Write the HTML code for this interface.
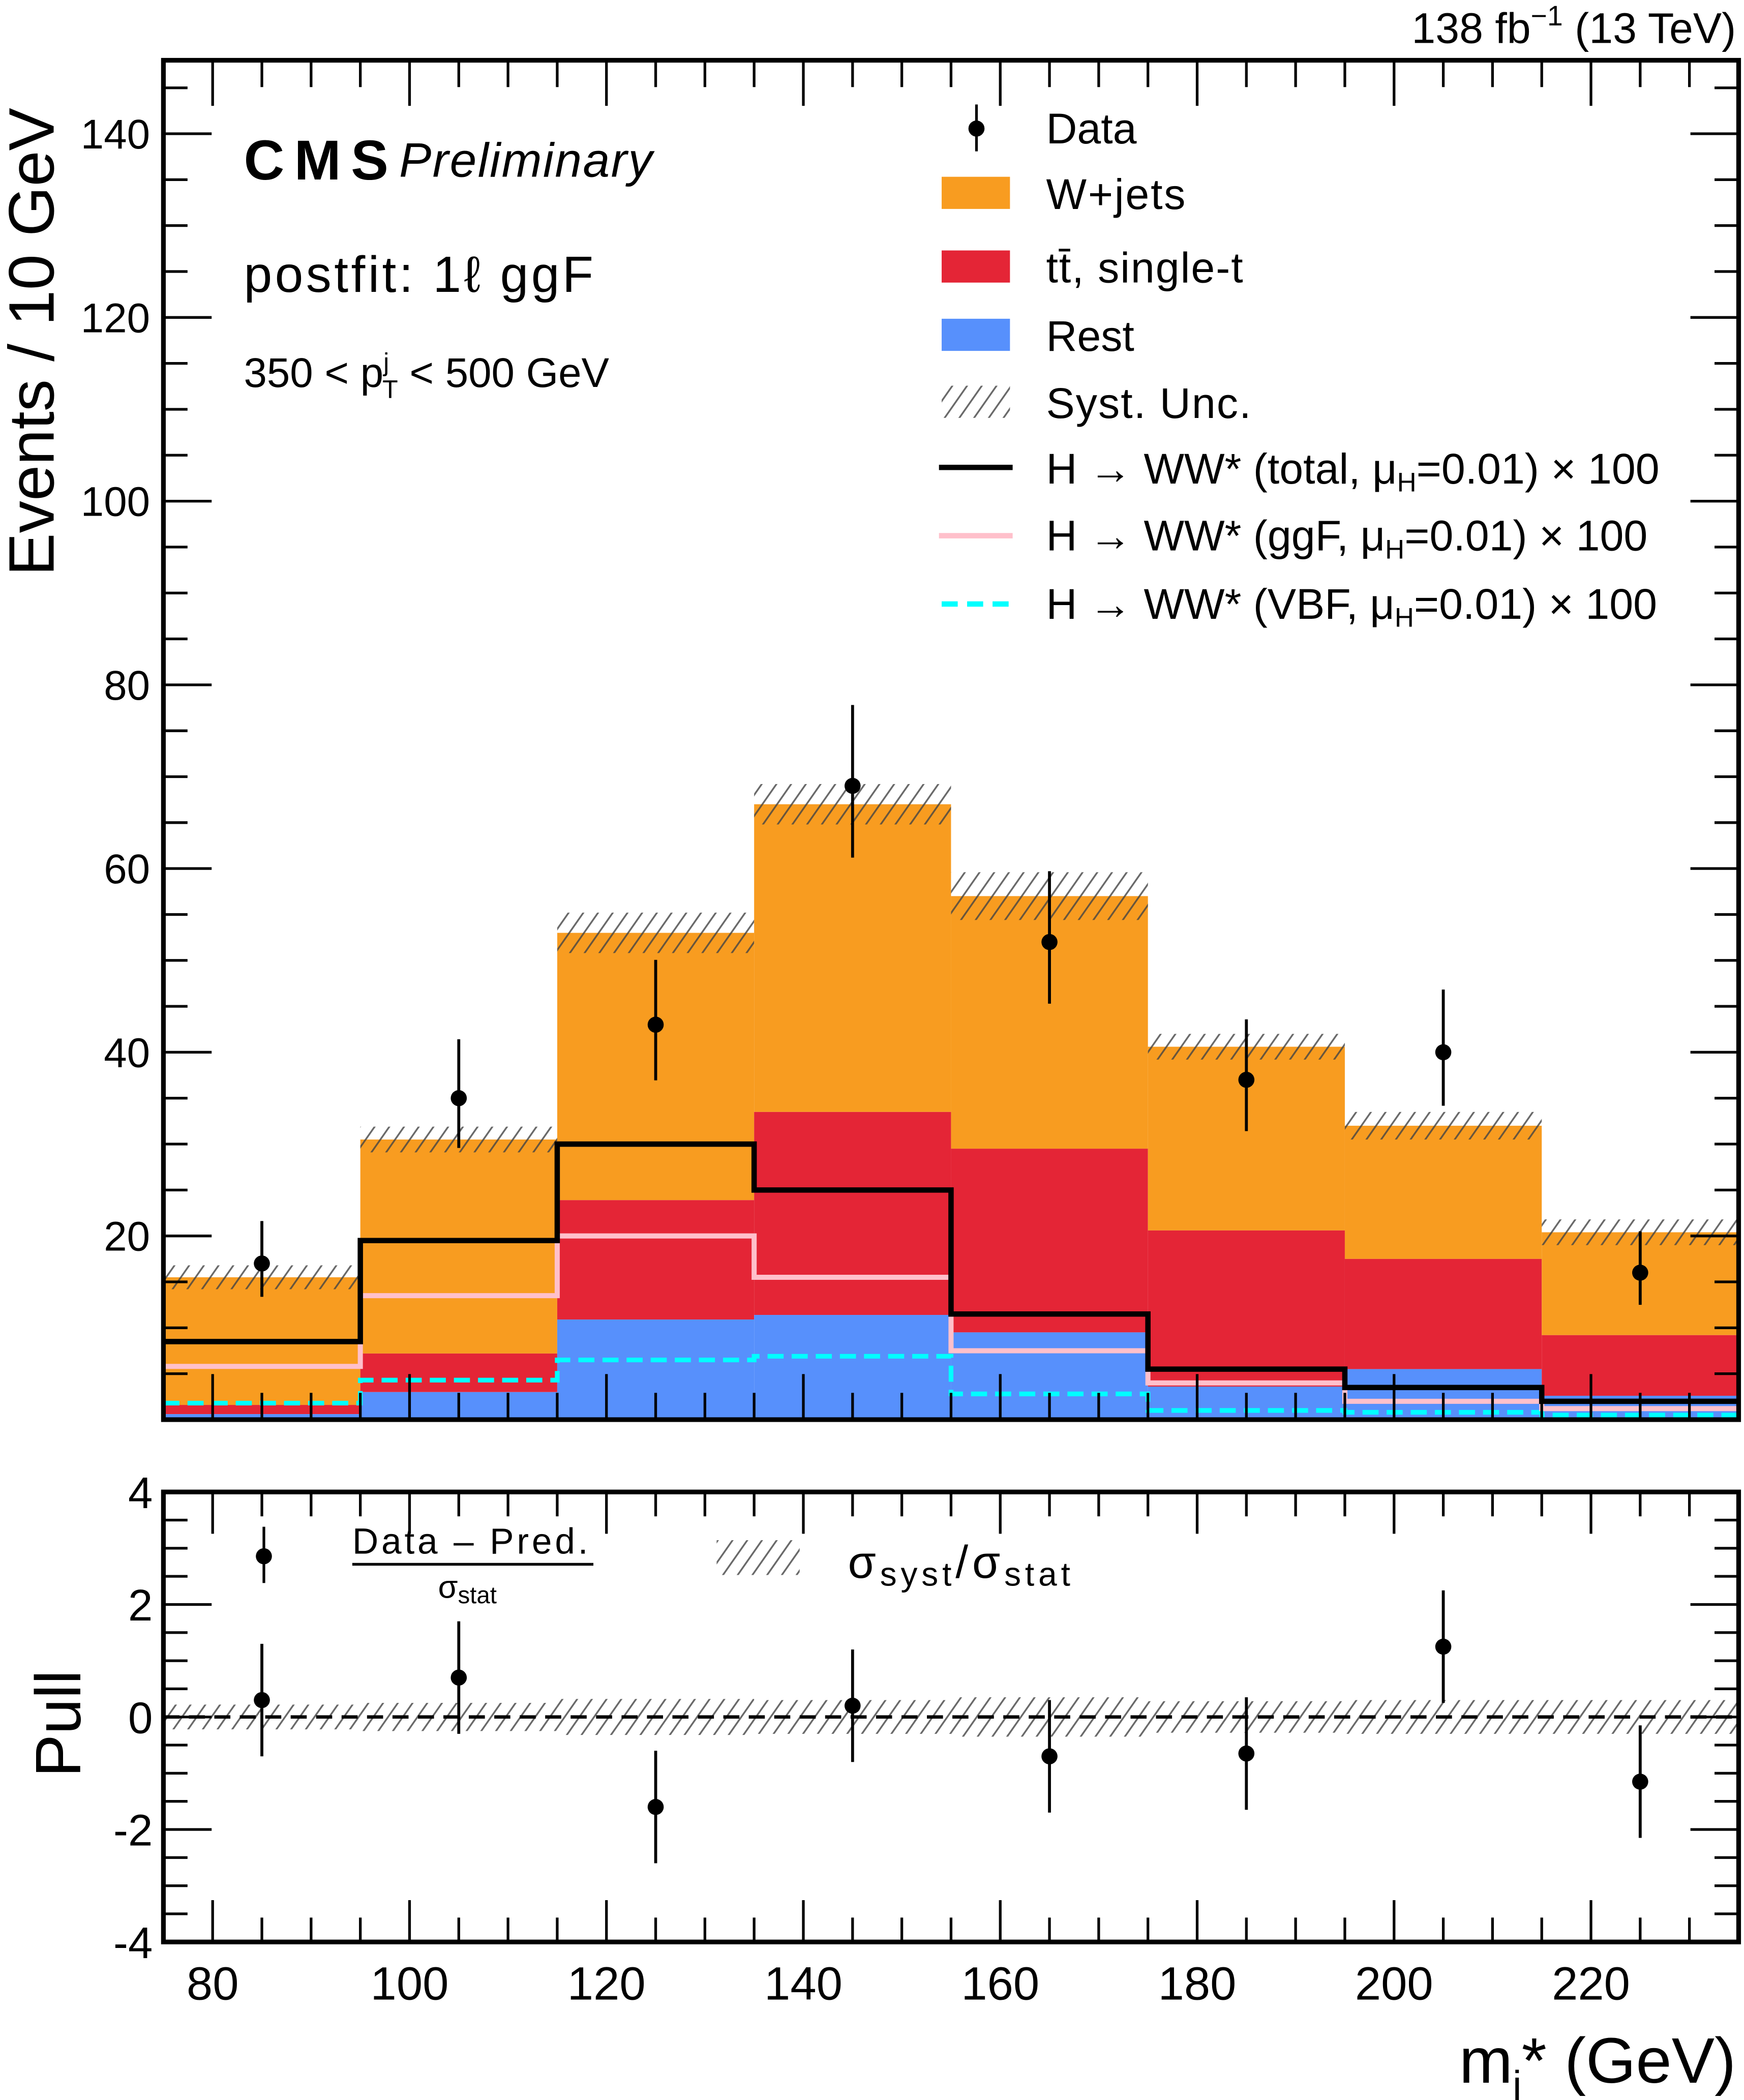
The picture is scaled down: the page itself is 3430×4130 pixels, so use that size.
<!DOCTYPE html>
<html><head><meta charset="utf-8"><style>
html,body{margin:0;padding:0;background:#fff;}
svg{display:block;font-family:"Liberation Sans",Arial,sans-serif;}
</style></head><body>
<svg id="chart" width="3430" height="4130" viewBox="0 0 1302 1568" preserveAspectRatio="none" xmlns="http://www.w3.org/2000/svg">
<defs>
<pattern id="hatch" patternUnits="userSpaceOnUse" width="9" height="9" patternTransform="rotate(35)">
<line x1="0" y1="0" x2="0" y2="9" stroke="#444" stroke-width="2.6" stroke-opacity="0.8"/>
</pattern>
</defs>
<g id="main"></g>
<g id="pull"></g>
<g id="fg"></g>
</svg>
<script>
const binEdges=[75,95,115,135,155,175,195,215,235];
const binCenters=[85,105,125,145,165,185,205,225];
const restVals=[0.6,3.0,10.9,11.4,9.5,3.6,5.5,2.6];
const ttVals=[1.0,4.2,13.0,22.1,20.0,17.0,12.0,6.6];
const wjetsVals=[13.9,23.3,29.1,33.5,27.5,20.0,14.5,11.2];
const systVals=[1.3,1.4,2.2,2.2,2.6,1.4,1.5,1.4];
const dataVals=[17,35,43,69,52,37,40,16];
const hTotalVals=[8.5,19.5,30,25,11.5,5.5,3.5,2.0];
const hGgfVals=[5.8,13.5,20,15.5,7.5,4.0,2.0,1.2];
const hVbfVals=[1.8,4.3,6.5,6.9,2.8,1.0,0.8,0.5];
const pullVals=[0.3,0.7,-1.6,0.2,-0.7,-0.65,1.25,-1.15];
const pullSyst=[0.22,0.25,0.32,0.3,0.35,0.28,0.3,0.3];
const yTicks=[20,40,60,80,100,120,140];
const pullTicks=[-4,-2,0,2,4];
const xTicks=[80,100,120,140,160,180,200,220];

const L=122,R=1298,T=45,B=1060,PT=1114,PB=1450;
const X=v=>L+(v-75)*(R-L)/160;
const Y=v=>B-v*(B-T)/148;
const YP=v=>(PT+PB)/2 - v*(PB-PT)/8;
const NS="http://www.w3.org/2000/svg";
function mk(tag,attrs,parent){const e=document.createElementNS(NS,tag);for(const k in attrs)e.setAttribute(k,attrs[k]);parent.appendChild(e);return e;}
const gm=document.getElementById('main'),gp=document.getElementById('pull'),gf=document.getElementById('fg');

for(let i=0;i<8;i++){
  const x0=X(binEdges[i]),x1=X(binEdges[i+1]);
  const r=restVals[i],t=r+ttVals[i],w=t+wjetsVals[i];
  let e=mk('rect',{x:x0,y:Y(w),width:x1-x0,height:Y(t)-Y(w),fill:'#f89c20'},gm);
  
  e=mk('rect',{x:x0,y:Y(t),width:x1-x0,height:Y(r)-Y(t),fill:'#e42536'},gm);
  
  e=mk('rect',{x:x0,y:Y(r),width:x1-x0,height:B-Y(r),fill:'#5790fc'},gm);
  
  e=mk('rect',{x:x0,y:Y(w+systVals[i]),width:x1-x0,height:Y(w-systVals[i])-Y(w+systVals[i]),fill:'url(#hatch)'},gm);
  
}
function step(vals,color,w,dash,name){
  let d='';
  for(let i=0;i<8;i++){d+=(i?'L':'M')+X(binEdges[i])+' '+Y(vals[i])+' L'+X(binEdges[i+1])+' '+Y(vals[i]);}
  const e=mk('path',{d:d,fill:'none',stroke:color,'stroke-width':w},gm);
  if(dash)e.setAttribute('stroke-dasharray',dash);
  
}
step(hVbfVals,'#00ffff',3.5,'12 6','h-vbf-line');
step(hGgfVals,'#ffc0cb',3.8,null,'h-ggf-line');
step(hTotalVals,'#000',4,null,'h-total-line');
for(let i=0;i<8;i++){
  const v=dataVals[i],s=Math.sqrt(v),x=X(binCenters[i]);
  let e=mk('line',{x1:x,x2:x,y1:Y(v+s+0.5),y2:Y(Math.max(v-s+0.5,0)),stroke:'#000','stroke-width':2.2},gm);
  
  e=mk('circle',{cx:x,cy:Y(v),r:6,fill:'#000'},gm);
  
}
for(let i=0;i<8;i++){
  const x0=X(binEdges[i]),x1=X(binEdges[i+1]);
  let e=mk('rect',{x:x0,y:YP(pullSyst[i]),width:x1-x0,height:YP(-pullSyst[i])-YP(pullSyst[i]),fill:'url(#hatch)'},gp);
  
}
let e0=mk('line',{x1:L,x2:R,y1:YP(0),y2:YP(0),stroke:'#000','stroke-width':2.5,'stroke-dasharray':'12 7'},gp);

for(let i=0;i<8;i++){
  const v=pullVals[i],x=X(binCenters[i]);
  let e=mk('line',{x1:x,x2:x,y1:YP(v+1),y2:YP(v-1),stroke:'#000','stroke-width':2.2},gp);
  
  e=mk('circle',{cx:x,cy:YP(v),r:6,fill:'#000'},gp);
  
}
function frame(t,b,name){const e=mk('rect',{x:L,y:t,width:R-L,height:b-t,fill:'none',stroke:'#000','stroke-width':3.5},gf);}
frame(T,B,'main-frame');frame(PT,PB,'pull-frame');
function tk(x1,y1,x2,y2,name){const e=mk('line',{x1,y1,x2,y2,stroke:'#000','stroke-width':2},gf);}
for(let v=80;v<=235;v+=5){
  const x=X(v),maj=(v%20===0),ln=maj?34:20,lp=maj?24:14;
  tk(x,B,x,B-ln,'x-tick');tk(x,T,x,T+ln,'x-tick');
  tk(x,PB,x,PB-lp*1.3,'x-tick');tk(x,PT,x,PT+lp*1.3,'x-tick');
}
for(let v=0;v<=145;v+=5){
  const y=Y(v),ln=(v%20===0)?36:18;
  tk(L,y,L+ln,y,'y-tick');tk(R,y,R-ln,y,'y-tick');
}
for(let v=-4;v<=4;v+=0.5){
  const y=YP(v),ln=(v%2===0)?36:18;
  tk(L,y,L+ln,y,'pull-y-tick');tk(R,y,R-ln,y,'pull-y-tick');
}
function txt(x,y,s,attrs,name){const e=mk('text',Object.assign({x,y},attrs),gf);e.textContent=s;return e;}
yTicks.forEach(v=>txt(L-10,Y(v)+11,String(v),{'font-size':31,'text-anchor':'end'},'y-tick-label'));
pullTicks.forEach(v=>txt(L-8,YP(v)+12,String(v),{'font-size':33,'text-anchor':'end'},'pull-tick-label'));
xTicks.forEach(v=>txt(X(v),1493,String(v),{'font-size':35,'text-anchor':'middle'},'x-tick-label'));
</script>
<svg x="0" y="0" width="3430" height="4130" viewBox="0 0 1302 1568" preserveAspectRatio="none" style="position:absolute;left:0;top:0;font-family:'Liberation Sans',Arial,sans-serif">
<defs><pattern id="hatch2" patternUnits="userSpaceOnUse" width="9" height="9" patternTransform="rotate(35)"><line x1="0" y1="0" x2="0" y2="9" stroke="#444" stroke-width="2.6" stroke-opacity="0.8"/></pattern></defs>
<text x="1296" y="32" font-size="32" text-anchor="end">138 fb<tspan font-size="21" dy="-13">−1</tspan><tspan dy="13"> (13 TeV)</tspan></text>
<text x="40" y="430" font-size="48" transform="rotate(-90 40 430)">Events / 10 GeV</text>
<text x="60" y="1327" font-size="48" transform="rotate(-90 60 1327)">Pull</text>
<text x="1296" y="1555" font-size="48" text-anchor="end">m<tspan font-size="30" dy="12">j</tspan><tspan dy="-12">* (GeV)</tspan></text>
<text x="182" y="134" font-size="42" font-weight="bold" textLength="108">CMS</text>
<text x="298" y="132" font-size="36" font-style="italic" textLength="189">Preliminary</text>
<text x="182" y="218" font-size="38" textLength="261">postfit: 1ℓ ggF</text>
<text x="182" y="289" font-size="31">350 &lt; p<tspan font-size="19" dy="-12">j</tspan><tspan font-size="19" dx="-5" dy="20">T</tspan><tspan dy="-8"> &lt; 500 GeV</tspan></text>
<g font-size="32">
<line x1="729" y1="78" x2="729" y2="113" stroke="#000" stroke-width="2"/><circle cx="729" cy="96" r="6"/>
<text x="781" y="107">Data</text>
<rect x="703" y="132" width="51" height="24" fill="#f89c20"/>
<text x="781" y="156" textLength="104">W+jets</text>
<rect x="703" y="187" width="51" height="24" fill="#e42536"/>
<text x="781" y="211" textLength="147">tt̄, single-t</text>
<rect x="703" y="238" width="51" height="24" fill="#5790fc"/>
<text x="781" y="262">Rest</text>
<rect x="703" y="288" width="51" height="24" fill="url(#hatch2)"/>
<text x="781" y="312" textLength="153">Syst. Unc.</text>
<line x1="701" y1="349" x2="756" y2="349" stroke="#000" stroke-width="4"/>
<text x="781" y="361">H → WW* (total, μ<tspan font-size="20" dy="6">H</tspan><tspan dy="-6">=0.01) × 100</tspan></text>
<line x1="701" y1="400" x2="756" y2="400" stroke="#ffc0cb" stroke-width="4"/>
<text x="781" y="411">H → WW* (ggF, μ<tspan font-size="20" dy="6">H</tspan><tspan dy="-6">=0.01) × 100</tspan></text>
<line x1="703" y1="451" x2="754" y2="451" stroke="#00ffff" stroke-width="4" stroke-dasharray="12 7"/>
<text x="781" y="462">H → WW* (VBF, μ<tspan font-size="20" dy="6">H</tspan><tspan dy="-6">=0.01) × 100</tspan></text>
</g>
<g>
<line x1="197" y1="1140" x2="197" y2="1182" stroke="#000" stroke-width="2"/><circle cx="197" cy="1162" r="6"/>
<text x="263" y="1160" font-size="27" textLength="176">Data  –  Pred.</text>
<line x1="263" y1="1168" x2="443" y2="1168" stroke="#000" stroke-width="2"/>
<text x="327" y="1193" font-size="24">σ<tspan font-size="18" dy="4">stat</tspan></text>
<rect x="535" y="1150" width="62" height="26" fill="url(#hatch2)"/>
<text x="633" y="1178" font-size="34" textLength="166">σ<tspan font-size="25" dy="6">syst</tspan><tspan dy="-6">/σ</tspan><tspan font-size="25" dy="6">stat</tspan></text>
</g>
</svg>
</body></html>
